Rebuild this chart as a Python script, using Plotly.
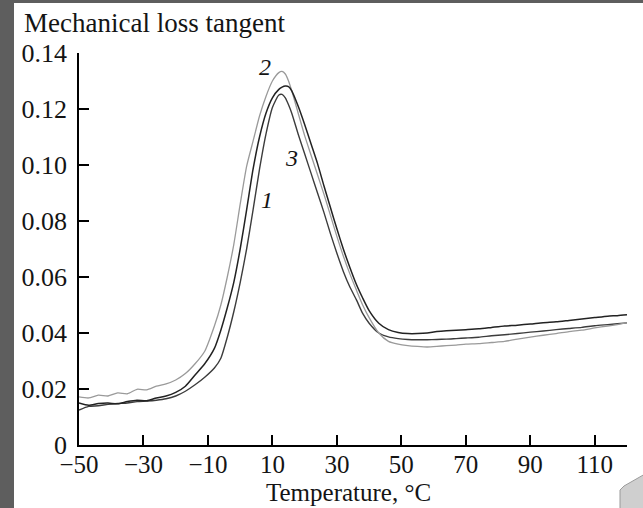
import plotly.graph_objects as go

# ---------------- data ----------------
temperature = [-50, -47, -44, -41, -38, -35, -32, -29, -26, -23, -20, -17, -14, -11, -8, -6, -4, -2,
               0, 2, 4, 6, 8, 10, 12, 13, 14, 15, 16, 18, 20, 22, 24, 26, 28, 30, 32, 34, 36, 38,
               40, 43, 46, 49, 52, 55, 58, 61, 64, 67, 70, 74, 78, 82, 86, 90, 94, 98, 102, 106,
               110, 114, 117, 120]

curve_1 = [0.0125, 0.0138, 0.0140, 0.0145, 0.0148, 0.0150, 0.0155, 0.0157, 0.0160, 0.0165, 0.0175,
           0.0192, 0.0215, 0.0242, 0.0275, 0.0310, 0.0385, 0.0475, 0.0580, 0.0700, 0.0840, 0.0985,
           0.1110, 0.1205, 0.1250, 0.1252, 0.1240, 0.1215, 0.1185, 0.1110, 0.1040, 0.0970, 0.0900,
           0.0830, 0.0755, 0.0685, 0.0620, 0.0565, 0.0520, 0.0470, 0.0435, 0.0400, 0.0386, 0.0380,
           0.0377, 0.0376, 0.0376, 0.0377, 0.0378, 0.0380, 0.0382, 0.0385, 0.0390, 0.0394, 0.0398,
           0.0403, 0.0407, 0.0412, 0.0416, 0.0420, 0.0426, 0.0430, 0.0433, 0.0436]

curve_2 = [0.0172, 0.0168, 0.0178, 0.0175, 0.0186, 0.0183, 0.0199, 0.0197, 0.0210, 0.0218, 0.0232,
           0.0255, 0.0290, 0.0335, 0.0425, 0.0500, 0.0600, 0.0715, 0.0860, 0.0995, 0.1085, 0.1175,
           0.1245, 0.1300, 0.1330, 0.1334, 0.1325, 0.1300, 0.1265, 0.1185, 0.1105, 0.1035, 0.0965,
           0.0895, 0.0820, 0.0745, 0.0675, 0.0612, 0.0555, 0.0500, 0.0455, 0.0400, 0.0370, 0.0360,
           0.0355, 0.0352, 0.0350, 0.0352, 0.0355, 0.0357, 0.0360, 0.0362, 0.0366, 0.0370, 0.0378,
           0.0385, 0.0392, 0.0398, 0.0405, 0.0410, 0.0418, 0.0425, 0.0430, 0.0436]

curve_3 = [0.0150, 0.0142, 0.0148, 0.0150, 0.0147, 0.0155, 0.0160, 0.0158, 0.0168, 0.0175, 0.0188,
           0.0210, 0.0250, 0.0290, 0.0345, 0.0410, 0.0490, 0.0580, 0.0700, 0.0840, 0.0985, 0.1100,
           0.1185, 0.1240, 0.1270, 0.1278, 0.1282, 0.1280, 0.1265, 0.1210, 0.1145, 0.1075, 0.1005,
           0.0925, 0.0848, 0.0772, 0.0700, 0.0635, 0.0575, 0.0525, 0.0480, 0.0435, 0.0412, 0.0402,
           0.0398, 0.0398, 0.0400, 0.0405, 0.0408, 0.0410, 0.0412, 0.0415, 0.0420, 0.0425, 0.0428,
           0.0432, 0.0437, 0.0440, 0.0445, 0.0450, 0.0455, 0.0460, 0.0462, 0.0465]

x_tick_vals = [-50, -30, -10, 10, 30, 50, 70, 90, 110]
x_tick_text = ["\u221250", "\u221230", "\u221210", "10", "30", "50", "70", "90", "110"]
y_tick_vals = [0, 0.02, 0.04, 0.06, 0.08, 0.10, 0.12, 0.14]
y_tick_text = ["0", "0.02", "0.04", "0.06", "0.08", "0.10", "0.12", "0.14"]

curve_names = ["1", "2", "3"]
label_x = [8.2, 7.7, 16.0]
label_y = [0.0875, 0.1351, 0.1024]

# ---------------- figure ----------------
W, H = 643, 508
L, R, T, B = 79, 16, 53, 63
PW, PH = W - L - R, H - T - B
FONT = "Liberation Serif, Times New Roman, serif"
TXT = "#141414"
FS = 26


def px_x(p):
    return (p - L) / PW


def px_y(p):
    return (H - B - p) / PH


fig = go.Figure()
styles = {"1": ("#3c3c3c", 1.4), "2": ("#9a9a9a", 1.3), "3": ("#222222", 1.5)}
for name, vals in zip(curve_names, [curve_1, curve_2, curve_3]):
    col, lw = styles[name]
    fig.add_trace(go.Scatter(x=temperature, y=vals, mode="lines", name=name,
                             line=dict(color=col, width=lw, shape="spline", smoothing=0.6),
                             showlegend=False, hoverinfo="skip"))

annotations = []
for name, lx, ly in zip(curve_names, label_x, label_y):
    annotations.append(dict(x=lx, y=ly, xref="x", yref="y", text=f"<i>{name}</i>", showarrow=False,
                            font=dict(family=FONT, size=24, color=TXT)))

annotations.append(dict(x=px_x(22), y=px_y(40), xref="paper", yref="paper", xanchor="left",
                        yanchor="bottom", text="Mechanical loss tangent", showarrow=False,
                        font=dict(family=FONT, size=27, color=TXT)))
annotations.append(dict(x=px_x(348), y=px_y(508), xref="paper", yref="paper", xanchor="center",
                        yanchor="bottom", text="Temperature, °C", showarrow=False,
                        font=dict(family=FONT, size=25, color=TXT)))

shapes = [
    dict(type="rect", xref="paper", yref="paper", x0=px_x(14), x1=px_x(W + 5), y0=px_y(H + 5),
         y1=px_y(3), fillcolor="white", line=dict(width=0), layer="below"),
    dict(type="path", xref="paper", yref="paper",
         path=f"M {px_x(620)},{px_y(510)} L {px_x(620)},{px_y(490)} L {px_x(624)},{px_y(486)} "
              f"L {px_x(645)},{px_y(474)} L {px_x(645)},{px_y(510)} Z",
         fillcolor="#cfcfcf", line=dict(color="#9a9a9a", width=1), layer="above"),
]

fig.update_layout(
    width=W, height=H,
    margin=dict(l=L, r=R, t=T, b=B, pad=0),
    paper_bgcolor="#5e5e5e", plot_bgcolor="rgba(0,0,0,0)",
    font=dict(family=FONT, size=FS, color=TXT),
    annotations=annotations, shapes=shapes,
    xaxis=dict(range=[-50, 120], tickmode="array", tickvals=x_tick_vals, ticktext=x_tick_text,
               ticks="inside", ticklen=10, tickwidth=1.5, tickcolor="black",
               showline=True, linecolor="black", linewidth=1.5, showgrid=False, zeroline=False,
               tickfont=dict(family=FONT, size=25, color=TXT), ticklabelstandoff=-4),
    yaxis=dict(range=[0, 0.14], tickmode="array", tickvals=y_tick_vals, ticktext=y_tick_text,
               ticks="inside", ticklen=10, tickwidth=1.5, tickcolor="black",
               showline=True, linecolor="black", linewidth=1.5, showgrid=False, zeroline=False,
               tickfont=dict(family=FONT, size=FS, color=TXT), ticklabelstandoff=5),
)

fig.write_html("out.html")
